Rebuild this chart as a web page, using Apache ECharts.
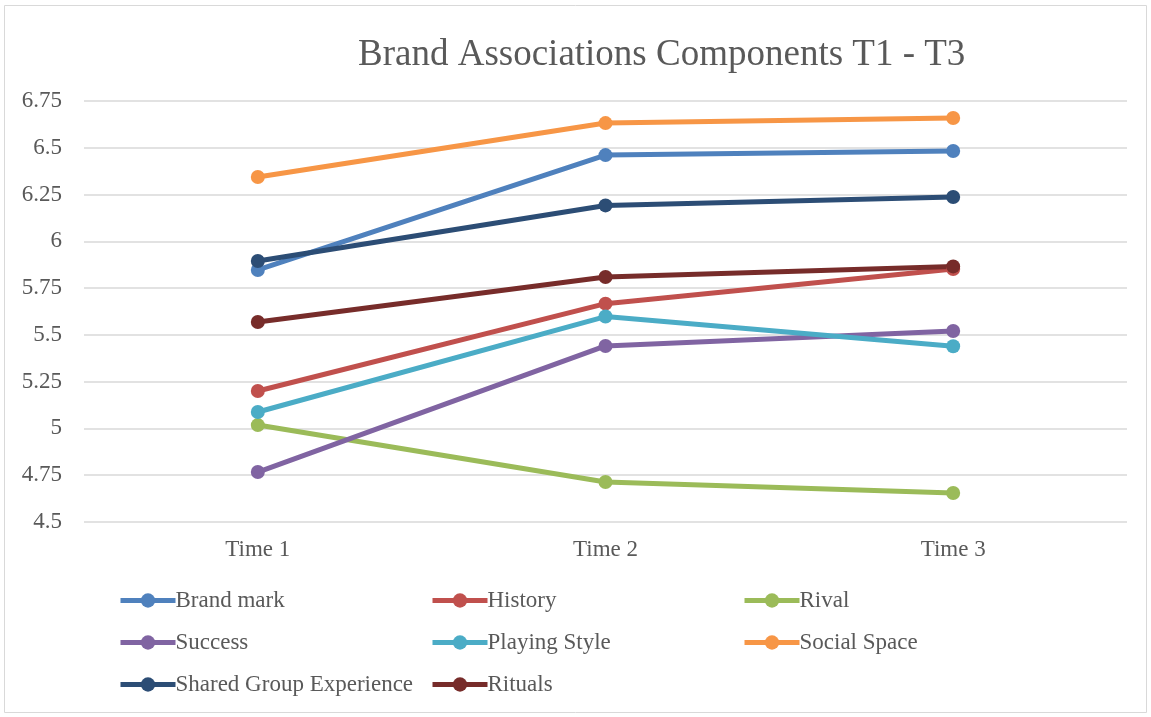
<!DOCTYPE html>
<html>
<head>
<meta charset="utf-8">
<script src="https://cdn.jsdelivr.net/npm/echarts@6/dist/echarts.min.js"></script>
<style>
  html, body { margin: 0; padding: 0; background: #fff; }
  #chart { width: 1151px; height: 717px; }
</style>
</head>
<body>
<div id="chart"></div>
<script>
var categories = ['Time 1', 'Time 2', 'Time 3'];
var brandMark = [5.847, 6.461, 6.483];
var historyVals = [5.200, 5.667, 5.852];
var rival = [5.018, 4.714, 4.655];
var success = [4.767, 5.441, 5.521];
var playingStyle = [5.088, 5.598, 5.439];
var socialSpace = [6.344, 6.632, 6.659];
var sharedGroup = [5.895, 6.192, 6.237];
var rituals = [5.569, 5.809, 5.866];

var names = ['Brand mark', 'History', 'Rival', 'Success', 'Playing Style', 'Social Space', 'Shared Group Experience', 'Rituals'];
var values = [brandMark, historyVals, rival, success, playingStyle, socialSpace, sharedGroup, rituals];
var colors = ['#4F81BD', '#C0504D', '#9BBB59', '#8064A2', '#4BACC6', '#F79646', '#2C4D75', '#772C2A'];

var font = '"Liberation Serif", "Times New Roman", serif';
var txt = '#595959';

var chart = echarts.init(document.getElementById('chart'));

var series = names.map(function (n, i) {
    return {
        name: n,
        type: 'line',
        data: values[i],
        symbol: 'circle',
        symbolSize: 14,
        color: colors[i],
        lineStyle: { width: 5, color: colors[i] },
        itemStyle: { color: colors[i] },
        emphasis: { disabled: true }
    };
});

function legendCol(left, data) {
    return {
        orient: 'vertical',
        left: left,
        top: 589,
        padding: 0,
        itemWidth: 55,
        itemHeight: 18,
        itemGap: 19,
        lineStyle: { width: 5 },
        textStyle: { fontFamily: font, fontSize: 23, color: txt, padding: [0, 0, 0, -5] },
        data: data
    };
}

chart.setOption({
    animation: false,
    title: {
        text: 'Brand Associations Components T1 - T3',
        left: 353,
        top: 32,
        textStyle: { fontFamily: font, fontSize: 37, fontWeight: 'normal', color: txt }
    },
    graphic: [{
        type: 'rect',
        shape: { x: 4.5, y: 5.5, width: 1142, height: 707 },
        style: { fill: 'none', stroke: '#d9d9d9', lineWidth: 1 },
        silent: true
    }],
    legend: [
        legendCol(118, ['Brand mark', 'Success', 'Shared Group Experience']),
        legendCol(430, ['History', 'Playing Style', 'Rituals']),
        legendCol(742, ['Rival', 'Social Space'])
    ],
    grid: { left: 84, right: 24, top: 101, bottom: 195 },
    xAxis: {
        type: 'category',
        data: categories,
        boundaryGap: true,
        axisLine: { show: false },
        axisTick: { show: false },
        axisLabel: { fontFamily: font, fontSize: 23, color: txt, margin: 16 }
    },
    yAxis: {
        type: 'value',
        min: 4.5,
        max: 6.75,
        interval: 0.25,
        axisLine: { show: false },
        axisTick: { show: false },
        splitLine: { lineStyle: { color: '#d9d9d9', width: 1.5 } },
        axisLabel: { fontFamily: font, fontSize: 23, color: txt, margin: 22 }
    },
    series: series
});
</script>
</body>
</html>
